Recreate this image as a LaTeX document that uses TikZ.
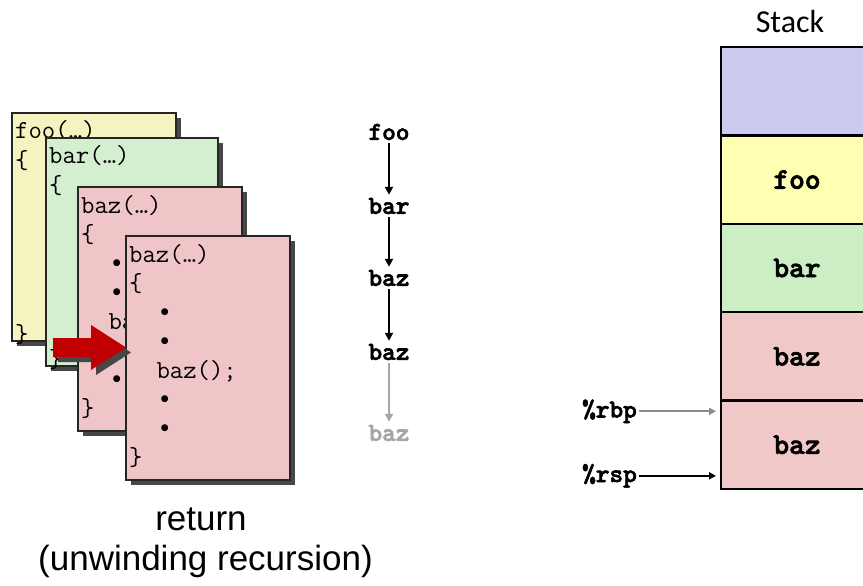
\documentclass[tikz,border=0pt]{standalone}
\usepackage{fontspec}
\setmainfont{Liberation Sans}
\newfontfamily\stackfont{Carlito}
\newfontfamily\dotfont{DejaVu Sans}
\newfontfamily\bmono{lmmonolt10-bold}[Extension=.otf, FakeBold=2.2]
\usetikzlibrary{arrows.meta,shadows,calc}

\definecolor{fooY}{HTML}{F5F3BF}
\definecolor{barG}{HTML}{D4EFD0}
\definecolor{bazR}{HTML}{F0C5C8}
\definecolor{stTop}{HTML}{CBCBF1}
\definecolor{stFoo}{HTML}{FFFFB4}
\definecolor{stBar}{HTML}{CCEEC5}
\definecolor{stBaz}{HTML}{F0C8C8}
\definecolor{arrRed}{HTML}{C00000}
\definecolor{lightgr}{HTML}{A6A6A6}
\definecolor{midgr}{HTML}{8C8C8C}

\newcommand\codeln[5]{%
  \node[codeline] (#1) at ($(#2.north west)+({3+13.65*#4},{26+29*#3})$) {#5};}
\newcommand\dotln[4]{%
  \node[anchor=base, inner sep=0pt, font=\dotfont\fontsize{9}{10}\selectfont] (#1) at ($(#2.north west)+({3+13.65*#4+8.5},{20.5+29*#3})$) {●};}

\begin{document}
\begin{tikzpicture}[x=1pt,y=-1pt,
  card/.style={draw=black!85, line width=1.1pt, anchor=north west, inner sep=0pt, outer sep=0pt,
    minimum width=164pt, minimum height=244pt,
    drop shadow={shadow xshift=5pt, shadow yshift=-5pt, fill=black!72, opacity=1}},
  codeline/.style={anchor=base west, inner sep=0pt, font=\ttfamily\fontsize{26}{29}\selectfont},
  lbl/.style={inner sep=3pt, font=\bmono\fontsize{26}{30}\selectfont},
  slbl/.style={font=\bmono\fontsize{30}{34}\selectfont},
  srow/.style={draw=black, line width=2.5pt, anchor=north west, outer sep=0pt,
    minimum width=152pt, minimum height=88.4pt},
  carrow/.style={line width=2pt, -{Triangle[length=8pt,width=8pt]}},
  parrow/.style={line width=2pt, -{Triangle[length=7pt,width=7pt]}, shorten >=5pt},
  ret/.style={anchor=base, inner sep=0pt, font=\fontsize{35}{40}\selectfont}
]
\useasboundingbox (0,0) rectangle (863,586);

% ---- stacked code cards ----
\node[card, fill=fooY, minimum height=228pt] (cfoo) at (12,113) {};
\codeln{f0}{cfoo}{0}{0}{foo(…)}
\codeln{f1}{cfoo}{1}{0}{\{}
\codeln{f7}{cfoo}{7}{0}{\}}

\node[card, fill=barG, minimum width=172pt, minimum height=228pt] (cbar) at (46,138) {};
\codeln{b0}{cbar}{0}{0}{bar(…)}
\codeln{b1}{cbar}{1}{0}{\{}
\codeln{b7}{cbar}{7}{0}{\}}

\node[card, fill=bazR] (cbazA) at (78,187) {};
\codeln{a0}{cbazA}{0}{0}{baz(…)}
\codeln{a1}{cbazA}{1}{0}{\{}
\dotln{a2}{cbazA}{2}{2}
\dotln{a3}{cbazA}{3}{2}
\codeln{a4}{cbazA}{4}{2}{baz();}
\dotln{a5}{cbazA}{5}{2}
\dotln{a6}{cbazA}{6}{2}
\codeln{a7}{cbazA}{7}{0}{\}}

\node[card, fill=bazR] (cbazB) at (126,236) {};
\codeln{z0}{cbazB}{0}{0}{baz(…)}
\codeln{z1}{cbazB}{1}{0}{\{}
\dotln{z2}{cbazB}{2}{2}
\dotln{z3}{cbazB}{3}{2}
\codeln{z4}{cbazB}{4}{2}{baz();}
\dotln{z5}{cbazB}{5}{2}
\dotln{z6}{cbazB}{6}{2}
\codeln{z7}{cbazB}{7}{0}{\}}

% red block arrow
\fill[arrRed, drop shadow={shadow xshift=5pt, shadow yshift=-5pt, fill=black!72, opacity=1}]
  (53,338) -- (91,338) -- (91,325) -- (126,347.5) -- (91,370) -- (91,357) -- (53,357) -- cycle;

% ---- call chain ----
\node[lbl] (m1) at (389,132) {foo};
\node[lbl] (m2) at (389,206) {bar};
\node[lbl] (m3) at (389,278) {baz};
\node[lbl] (m4) at (389,352) {baz};
\node[lbl, text=lightgr] (m5) at (389,433) {baz};
\draw[carrow] (m1) -- (m2);
\draw[carrow] (m2) -- (m3);
\draw[carrow] (m3) -- (m4);
\draw[carrow, draw=lightgr, fill=lightgr] (m4) -- (m5);

% ---- stack ----
\node[font=\stackfont\fontsize{32}{38}\selectfont] (stk) at (790,22) {Stack};
\begin{scope}
\clip (0,0) rectangle (863,586);
\node[srow, fill=stTop] (s0) at (721,47) {};
\node[srow, fill=stFoo, slbl] (s1) at (721,135.4) {foo};
\node[srow, fill=stBar, slbl] (s2) at (721,223.8) {bar};
\node[srow, fill=stBaz, slbl] (s3) at (721,312.2) {baz};
\node[srow, fill=stBaz, slbl] (s4) at (721,400.6) {baz};
\end{scope}

\node[lbl, anchor=base east, inner sep=2pt] (rbp) at (639,417.5) {\%rbp};
\node[lbl, anchor=base east, inner sep=2pt] (rsp) at (639,482) {\%rsp};
\draw[parrow, draw=midgr, fill=midgr] (rbp.east) -- (rbp.east -| s4.west);
\draw[parrow] (rsp.east) -- (rsp.east -| s4.west);

% ---- caption ----
\node[ret] (r1) at (201,530) {return};
\node[ret] (r2) at (205.5,570) {(unwinding recursion)};
\end{tikzpicture}
\end{document}
